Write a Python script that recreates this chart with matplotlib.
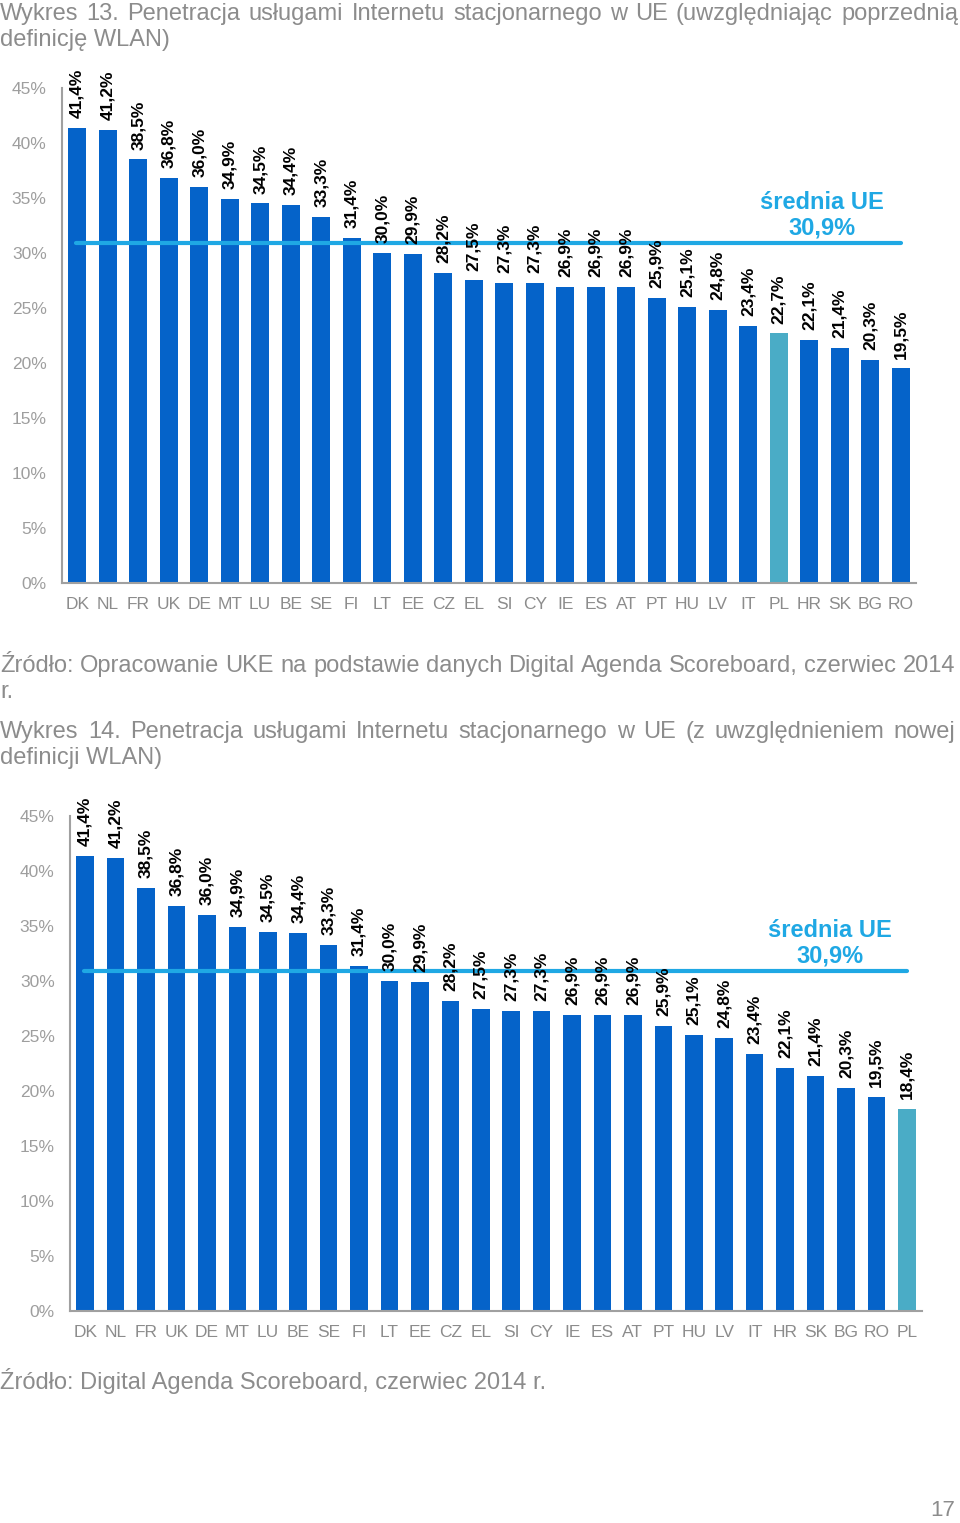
import matplotlib.pyplot as plt

plt.rcParams['font.family'] = ['Liberation Sans', 'DejaVu Sans']

# Chart 13 data
kraje13 = ['DK', 'NL', 'FR', 'UK', 'DE', 'MT', 'LU', 'BE', 'SE', 'FI', 'LT', 'EE', 'CZ', 'EL',
           'SI', 'CY', 'IE', 'ES', 'AT', 'PT', 'HU', 'LV', 'IT', 'PL', 'HR', 'SK', 'BG', 'RO']
wartosci13 = [41.4, 41.2, 38.5, 36.8, 36.0, 34.9, 34.5, 34.4, 33.3, 31.4, 30.0, 29.9, 28.2, 27.5,
              27.3, 27.3, 26.9, 26.9, 26.9, 25.9, 25.1, 24.8, 23.4, 22.7, 22.1, 21.4, 20.3, 19.5]

# Chart 14 data
kraje14 = ['DK', 'NL', 'FR', 'UK', 'DE', 'MT', 'LU', 'BE', 'SE', 'FI', 'LT', 'EE', 'CZ', 'EL',
           'SI', 'CY', 'IE', 'ES', 'AT', 'PT', 'HU', 'LV', 'IT', 'HR', 'SK', 'BG', 'RO', 'PL']
wartosci14 = [41.4, 41.2, 38.5, 36.8, 36.0, 34.9, 34.5, 34.4, 33.3, 31.4, 30.0, 29.9, 28.2, 27.5,
              27.3, 27.3, 26.9, 26.9, 26.9, 25.9, 25.1, 24.8, 23.4, 22.1, 21.4, 20.3, 19.5, 18.4]

srednia_ue = 30.9
yticks = [0, 5, 10, 15, 20, 25, 30, 35, 40, 45]

BLUE = '#0563C9'
TEAL = '#4AACC6'
LINE = '#1FA8E4'
GRAY = '#8C8C8C'
LGRAY = '#9E9E9E'

W, H = 960, 1523
fig = plt.figure(figsize=(W / 100, H / 100), dpi=100)


def px_axes(left, top, right, bottom):
    return fig.add_axes([left / W, 1 - bottom / H, (right - left) / W, (bottom - top) / H])


def draw_chart(ax, kraje, wartosci, txt_x):
    n = len(kraje)
    x = range(n)
    colors = [TEAL if k == 'PL' else BLUE for k in kraje]
    ax.bar(x, wartosci, width=0.58, color=colors)
    for i, v in enumerate(wartosci):
        ax.annotate(f'{v:.1f}%'.replace('.', ','), (i, v), xytext=(0, 7),
                    textcoords='offset points', rotation=90, ha='center', va='bottom',
                    fontsize=12.5, fontweight='bold', color='black', annotation_clip=False)
    ax.plot([-0.05, n - 1.0], [srednia_ue, srednia_ue], color=LINE, lw=3,
            solid_capstyle='round')
    ax.text(txt_x, srednia_ue + 0.35, 'średnia UE\n30,9%', ha='center', va='bottom', color=LINE,
            fontsize=17, fontweight='bold', linespacing=1.1)
    ax.set_xlim(-0.5, n - 0.5)
    ax.set_ylim(0, 45)
    ax.set_yticks(yticks)
    ax.set_yticklabels([f'{t}%' for t in yticks])
    ax.set_xticks(list(x))
    ax.set_xticklabels(kraje)
    ax.tick_params(axis='both', length=0, labelsize=12.5)
    ax.tick_params(axis='y', pad=11, colors=LGRAY)
    ax.tick_params(axis='x', pad=10, colors=GRAY)
    for s in ['top', 'right']:
        ax.spines[s].set_visible(False)
    for s in ['left', 'bottom']:
        ax.spines[s].set_color('#A0A0A0')
        ax.spines[s].set_linewidth(1.5)


ax1 = px_axes(62, 88, 916, 583)
draw_chart(ax1, kraje13, wartosci13, 24.42)

ax2 = px_axes(70, 816, 922, 1311)
draw_chart(ax2, kraje14, wartosci14, 24.47)

tkw = dict(color=GRAY, fontsize=17, va='center', ha='left')
renderer = fig.canvas.get_renderer()


def justified(y, line, x0=0, x1=958):
    words = line.split(' ')
    arts = [fig.text(0, 1 - y / H, w, **tkw) for w in words]
    widths = [a.get_window_extent(renderer).width for a in arts]
    gap = (x1 - x0 - sum(widths)) / (len(words) - 1)
    pos = x0
    for a, w in zip(arts, widths):
        a.set_x(pos / W)
        pos += w + gap


def plain(y, line):
    fig.text(0, 1 - y / H, line, **tkw)


justified(14, 'Wykres 13. Penetracja usługami Internetu stacjonarnego w UE (uwzględniając poprzednią')
plain(40, 'definicję WLAN)')
justified(666, 'Źródło: Opracowanie UKE na podstawie danych Digital Agenda Scoreboard, czerwiec 2014', x1=955)
plain(692, 'r.')
justified(732, 'Wykres 14. Penetracja usługami Internetu stacjonarnego w UE (z uwzględnieniem nowej', x1=955)
plain(758, 'definicji WLAN)')
plain(1381, 'Źródło: Digital Agenda Scoreboard, czerwiec 2014 r.')
fig.text(955 / W, 1 - 1510 / H, '17', color=GRAY, fontsize=16, va='center', ha='right')

fig.savefig('out.png', dpi=100)
